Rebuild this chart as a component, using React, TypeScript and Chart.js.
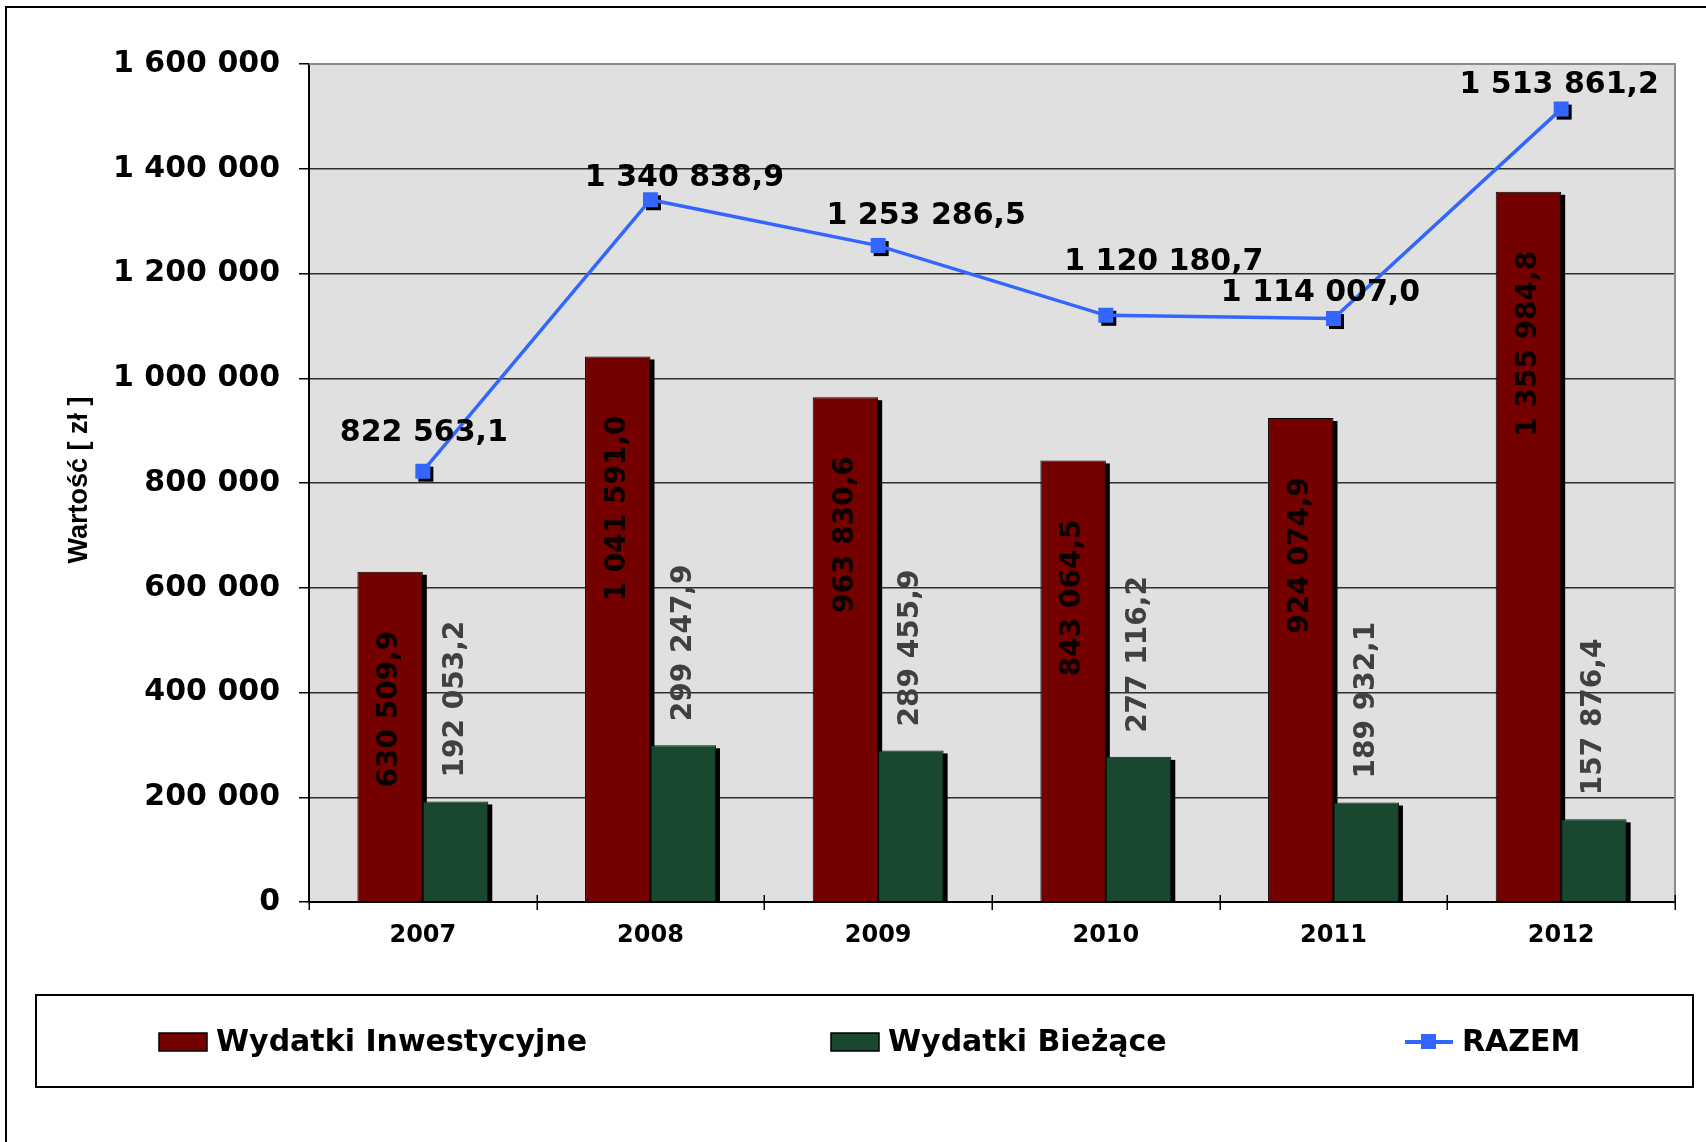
import React, { useEffect, useRef } from "react";
import { Chart, registerables } from "chart.js";

Chart.register(...registerables);

// ---- data ----
const years = ["2007", "2008", "2009", "2010", "2011", "2012"];
const inwestycyjne = [630509.9, 1041591.0, 963830.6, 843064.5, 924074.9, 1355984.8];
const biezace = [192053.2, 299247.9, 289455.9, 277116.2, 189932.1, 157876.4];
const razem = [822563.1, 1340838.9, 1253286.5, 1120180.7, 1114007.0, 1513861.2];
const yTickValues = [0, 200000, 400000, 600000, 800000, 1000000, 1200000, 1400000, 1600000];
const seriesNames = ["Wydatki Inwestycyjne", "Wydatki Bieżące", "RAZEM"];
const axisTitle = "Wartość [ zł ]";

// ---- style constants ----
const W = 1706;
const H = 1142;
const RED = "#750000";
const GREEN = "#1a4730";
const BLUE = "#3366ff";
const FONT = "'DejaVu Sans', Verdana, sans-serif";
const razemLabelOffsets = [
  [1, -38],
  [34, -22],
  [48, -29],
  [58, -53],
  [-13, -25],
  [-2, -24],
];

const group = (s: string) => s.replace(/\B(?=(\d{3})+(?!\d))/g, " ");
const fmt1 = (v: number) => {
  const [i, d] = v.toFixed(1).split(".");
  return group(i) + "," + d;
};
const fmt0 = (v: number) => group(String(Math.round(v)));

const decorPlugin = {
  id: "decor",
  beforeDraw(chart: any) {
    const { ctx, chartArea: a } = chart;
    ctx.save();
    ctx.fillStyle = "#ffffff";
    ctx.fillRect(0, 0, W, H);
    // outer border
    ctx.strokeStyle = "#000";
    ctx.lineWidth = 2;
    ctx.beginPath();
    ctx.moveTo(6, H + 10);
    ctx.lineTo(6, 7);
    ctx.lineTo(W + 10, 7);
    ctx.stroke();
    // plot background
    ctx.fillStyle = "#e0e0e0";
    ctx.fillRect(a.left, a.top, a.right - a.left, a.bottom - a.top);
    ctx.restore();
  },
  beforeDatasetsDraw(chart: any) {
    const { ctx, chartArea: a } = chart;
    ctx.save();
    // plot border top/right (gray)
    ctx.strokeStyle = "#8a8a8a";
    ctx.lineWidth = 2;
    ctx.beginPath();
    ctx.moveTo(a.left, a.top);
    ctx.lineTo(a.right, a.top);
    ctx.lineTo(a.right, a.bottom);
    ctx.stroke();
    // bar shadows
    ctx.fillStyle = "#000";
    [0, 1].forEach((di) => {
      const meta = chart.getDatasetMeta(di);
      meta.data.forEach((el: any) => {
        const w = el.width;
        ctx.fillRect(el.x - w / 2 + 4, el.y + 3, w, el.base - el.y - 3);
      });
    });
    ctx.restore();
  },
  beforeDatasetDraw(chart: any, args: any) {
    if (args.index !== 2) return;
    const { ctx } = chart;
    ctx.save();
    ctx.fillStyle = "#000";
    args.meta.data.forEach((el: any) => {
      ctx.fillRect(el.x - 7.5 + 3, el.y - 7.5 + 3, 15, 15);
    });
    ctx.restore();
  },
  afterDatasetsDraw(chart: any) {
    const { ctx } = chart;
    ctx.save();
    // bar labels
    ctx.font = `bold 28px ${FONT}`;
    ctx.textBaseline = "middle";
    const m0 = chart.getDatasetMeta(0);
    m0.data.forEach((el: any, i: number) => {
      ctx.save();
      ctx.translate(el.x, el.y + 59);
      ctx.rotate(-Math.PI / 2);
      ctx.textAlign = "right";
      ctx.fillStyle = "#0a0000";
      ctx.fillText(fmt1(inwestycyjne[i]), 0, 0);
      ctx.restore();
    });
    const m1 = chart.getDatasetMeta(1);
    m1.data.forEach((el: any, i: number) => {
      ctx.save();
      ctx.translate(el.x, el.y - 24);
      ctx.rotate(-Math.PI / 2);
      ctx.textAlign = "left";
      ctx.fillStyle = "#404040";
      ctx.fillText(fmt1(biezace[i]), 0, 0);
      ctx.restore();
    });
    // line labels
    const m2 = chart.getDatasetMeta(2);
    ctx.font = `bold 30px ${FONT}`;
    ctx.fillStyle = "#000";
    ctx.textAlign = "center";
    m2.data.forEach((el: any, i: number) => {
      const [dx, dy] = razemLabelOffsets[i];
      ctx.fillText(fmt1(razem[i]), el.x + dx, el.y + dy);
    });
    ctx.restore();
  },
  afterDraw(chart: any) {
    const { ctx, chartArea: a } = chart;
    ctx.save();
    // x-axis crossing tick marks
    const n = years.length;
    const cw = (a.right - a.left) / n;
    ctx.strokeStyle = "#000";
    ctx.lineWidth = 1.5;
    for (let i = 0; i <= n; i++) {
      const x = Math.round(a.left + i * cw) + 0.25;
      ctx.beginPath();
      ctx.moveTo(x, a.bottom - 7);
      ctx.lineTo(x, a.bottom + 8);
      ctx.stroke();
    }
    // y axis title
    ctx.save();
    ctx.translate(80, 480);
    ctx.rotate(-Math.PI / 2);
    ctx.font = "bold 27px 'Liberation Sans', Arial, sans-serif";
    ctx.textAlign = "center";
    ctx.textBaseline = "middle";
    ctx.fillStyle = "#000";
    ctx.fillText(axisTitle, 0, 0);
    ctx.restore();
    // legend box
    ctx.strokeStyle = "#000";
    ctx.lineWidth = 2;
    ctx.strokeRect(36, 995, 1657, 92);
    const ly = 1043;
    ctx.font = `bold 30px ${FONT}`;
    ctx.textBaseline = "middle";
    ctx.textAlign = "left";
    // item 1
    ctx.fillStyle = RED;
    ctx.fillRect(159, 1033, 48, 18);
    ctx.lineWidth = 1.5;
    ctx.strokeRect(159, 1033, 48, 18);
    ctx.fillStyle = "#000";
    ctx.fillText(seriesNames[0], 216, ly);
    // item 2
    ctx.fillStyle = GREEN;
    ctx.fillRect(831, 1033, 48, 18);
    ctx.strokeRect(831, 1033, 48, 18);
    ctx.fillStyle = "#000";
    ctx.fillText(seriesNames[1], 888, ly);
    // item 3
    ctx.strokeStyle = BLUE;
    ctx.lineWidth = 4;
    ctx.beginPath();
    ctx.moveTo(1405, 1042);
    ctx.lineTo(1453, 1042);
    ctx.stroke();
    ctx.fillStyle = BLUE;
    ctx.fillRect(1421, 1034, 15, 15);
    ctx.fillStyle = "#000";
    ctx.fillText(seriesNames[2], 1462, ly);
    ctx.restore();
  },
};

export default function App() {
  const ref = useRef<HTMLCanvasElement | null>(null);
  useEffect(() => {
    document.body.style.margin = "0";
    document.body.style.overflow = "hidden";
    const canvas = ref.current!;
    const chart = new Chart(canvas, {
      type: "bar",
      data: {
        labels: years,
        datasets: [
          {
            type: "bar",
            label: seriesNames[0],
            data: inwestycyjne,
            backgroundColor: RED,
            borderColor: "#000",
            borderWidth: 1,
            order: 1,
          } as any,
          {
            type: "bar",
            label: seriesNames[1],
            data: biezace,
            backgroundColor: GREEN,
            borderColor: "#081a10",
            borderWidth: 1,
            order: 2,
          } as any,
          {
            type: "line",
            label: seriesNames[2],
            data: razem,
            borderColor: BLUE,
            backgroundColor: BLUE,
            borderWidth: 3.5,
            pointStyle: "rect",
            pointRadius: 10.6,
            pointBorderWidth: 0,
            pointBackgroundColor: BLUE,
            tension: 0,
            order: 0,
          } as any,
        ],
      },
      options: {
        responsive: false,
        devicePixelRatio: 1,
        animation: false,
        layout: { padding: { top: 64, right: 31, left: 0, bottom: 0 } },
        datasets: { bar: { categoryPercentage: 0.575, barPercentage: 1 } },
        plugins: {
          legend: { display: false },
          tooltip: { enabled: false },
          title: { display: false },
        },
        scales: {
          x: {
            offset: true,
            grid: { display: false },
            border: { display: true, color: "#000", width: 2 },
            ticks: {
              color: "#000",
              font: { family: FONT, size: 24, weight: "bold" },
              padding: 11,
            },
            afterFit: (s: any) => {
              s.height = 240;
            },
          },
          y: {
            min: 0,
            max: 1600000,
            afterBuildTicks: (s: any) => {
              s.ticks = yTickValues.map((v) => ({ value: v }));
            },
            grid: {
              color: (c: any) => (c.tick && c.tick.value === 1600000 ? "#8a8a8a" : "#2e2e2e"),
              lineWidth: 1.5,
              tickLength: 10,
              tickColor: "#000",
            },
            border: { display: true, color: "#000", width: 2 },
            ticks: {
              color: "#000",
              font: { family: FONT, size: 30, weight: "bold" },
              padding: 19,
              callback: (v: any) => fmt0(Number(v)),
            },
            afterFit: (s: any) => {
              s.width = 309;
            },
          },
        },
      } as any,
      plugins: [decorPlugin],
    });
    return () => chart.destroy();
  }, []);
  return (
    <div style={{ width: W, height: H, position: "relative" }}>
      <canvas ref={ref} width={W} height={H} style={{ display: "block", width: W, height: H }} />
    </div>
  );
}
